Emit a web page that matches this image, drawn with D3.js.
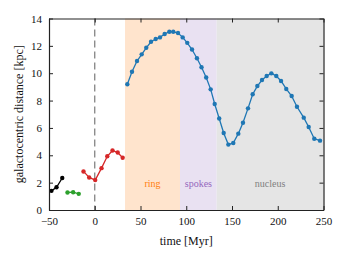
<!DOCTYPE html>
<html>
<head>
<meta charset="utf-8">
<script src="https://cdn.jsdelivr.net/npm/d3@7"></script>
<style>
  body { margin: 0; background: #fff; }
  text { font-family: "Liberation Serif", "DejaVu Serif", serif; }
</style>
</head>
<body>
<svg width="346" height="260"></svg>
<script>
// time [Myr] and distance [kpc]
const blackT = [-47.3, -41.8, -35.5]
const blackD = [1.40, 1.66, 2.34]
const greenT = [-29.8, -23.6, -17.5]
const greenD = [1.28, 1.30, 1.18]
const redT = [-12.3, -6.1, 0.5, 7.4, 13.7, 19.4, 25.1, 30.5]
const redD = [2.82, 2.38, 2.19, 3.06, 3.93, 4.35, 4.20, 3.82]
const blueT = [35.6, 40.7, 46.2, 51.3, 56.3, 61.5, 66.6, 71.3, 76.4, 81.5, 85.8, 91, 96.1, 101.1,
  106.3, 111.7, 116.7, 121.8, 126.7, 131.1, 136, 140.9, 146, 151.4, 156.9, 162, 167.5, 172.6,
  177.7, 182.8, 187.9, 193, 198.4, 203.6, 209.3, 215.2, 221, 228.4, 233.8, 239.9, 246.2]
const blueD = [9.19, 10.11, 10.89, 11.38, 11.86, 12.30, 12.50, 12.62, 12.87, 13.03, 13.03, 12.94,
  12.62, 12.22, 11.73, 11.09, 10.44, 9.69, 8.82, 7.75, 6.69, 5.63, 4.78, 4.90, 5.58, 6.38, 7.43,
  8.46, 9.06, 9.50, 9.80, 9.99, 9.80, 9.43, 8.85, 8.33, 7.55, 6.75, 6.07, 5.21, 5.07]

const phases = ["ring", "spokes", "nucleus"]
const phaseStart = [33.1, 93.2, 133.3]
const phaseEnd = [93.2, 133.3, 250]
const phaseFill = ["#ffe4cd", "#e9e1f2", "#e5e5e5"]
const phaseText = ["#ff7f0e", "#9467bd", "#7f7f7f"]

const xTicks = [-50, 0, 50, 100, 150, 200, 250]
const yTicks = [0, 2, 4, 6, 8, 10, 12, 14]

const margin = {top: 18.5, right: 22.5, bottom: 50, left: 49}
const width = 346 - margin.left - margin.right
const height = 260 - margin.top - margin.bottom

const svg = d3.select("svg")
const g = svg.append("g").attr("transform", `translate(${margin.left},${margin.top})`)

const x = d3.scaleLinear().domain([-50, 250]).range([0, width])
const y = d3.scaleLinear().domain([0, 14]).range([height, 0])

// shaded phases
g.selectAll("rect.phase")
  .data(phases)
  .enter()
  .append("rect")
  .attr("class", "phase")
  .attr("x", (d, i) => x(phaseStart[i]))
  .attr("width", (d, i) => x(phaseEnd[i]) - x(phaseStart[i]))
  .attr("y", 0)
  .attr("height", height)
  .attr("fill", (d, i) => phaseFill[i])

g.selectAll("text.phase")
  .data(phases)
  .enter()
  .append("text")
  .attr("class", "phase")
  .attr("x", (d, i) => (x(phaseStart[i]) + x(phaseEnd[i])) / 2)
  .attr("y", y(1.7))
  .attr("text-anchor", "middle")
  .attr("font-size", "10px")
  .attr("fill", (d, i) => phaseText[i])
  .text(d => d)

// t = 0 marker
g.append("line")
  .attr("x1", x(0)).attr("x2", x(0))
  .attr("y1", 0).attr("y2", height)
  .attr("stroke", "#7a7a7a")
  .attr("stroke-width", 1.2)
  .attr("stroke-dasharray", "7,4")

// series
const series = [
  {t: blackT, d: blackD, color: "#000000"},
  {t: greenT, d: greenD, color: "#2ca02c"},
  {t: redT, d: redD, color: "#d62728"},
  {t: blueT, d: blueD, color: "#1f77b4"}
]
const line = d3.line().x(p => x(p[0])).y(p => y(p[1]))

series.forEach(s => {
  const pts = s.t.map((v, i) => [v, s.d[i]])
  g.append("path")
    .datum(pts)
    .attr("d", line)
    .attr("fill", "none")
    .attr("stroke", s.color)
    .attr("stroke-width", 1.3)
  g.append("g").selectAll("circle")
    .data(pts)
    .enter()
    .append("circle")
    .attr("cx", p => x(p[0]))
    .attr("cy", p => y(p[1]))
    .attr("r", 2.2)
    .attr("fill", s.color)
})

// axes, ticks pointing inward on all four sides
const fmt = d3.format("")
const xAxis = d3.axisBottom(x).tickValues(xTicks).tickFormat(fmt).tickSizeInner(-4).tickSizeOuter(0).tickPadding(7)
const yAxis = d3.axisLeft(y).tickValues(yTicks).tickFormat(fmt).tickSizeInner(-4).tickSizeOuter(0).tickPadding(7)
const xTop = d3.axisTop(x).tickValues(xTicks).tickFormat("").tickSizeInner(-4).tickSizeOuter(0)
const yRight = d3.axisRight(y).tickValues(yTicks).tickFormat("").tickSizeInner(-4).tickSizeOuter(0)

const ax = [
  g.append("g").attr("transform", `translate(0,${height})`).call(xAxis),
  g.append("g").call(yAxis),
  g.append("g").call(xTop),
  g.append("g").attr("transform", `translate(${width},0)`).call(yRight)
]
ax.forEach(a => {
  a.selectAll("path.domain").attr("stroke", "#222").attr("stroke-width", 1.2)
  a.selectAll(".tick line").attr("stroke", "#222").attr("stroke-width", 1)
  a.selectAll(".tick text").attr("fill", "#111").attr("font-size", "11px")
    .attr("font-family", "Liberation Serif, DejaVu Serif, serif")
})

svg.append("text")
  .attr("x", margin.left + width / 2)
  .attr("y", 245)
  .attr("text-anchor", "middle")
  .attr("font-size", "12px")
  .attr("fill", "#111")
  .text("time [Myr]")

svg.append("text")
  .attr("transform", `translate(23,${margin.top + height / 2}) rotate(-90)`)
  .attr("text-anchor", "middle")
  .attr("font-size", "12px")
  .attr("fill", "#111")
  .text("galactocentric distance [kpc]")
</script>
</body>
</html>
